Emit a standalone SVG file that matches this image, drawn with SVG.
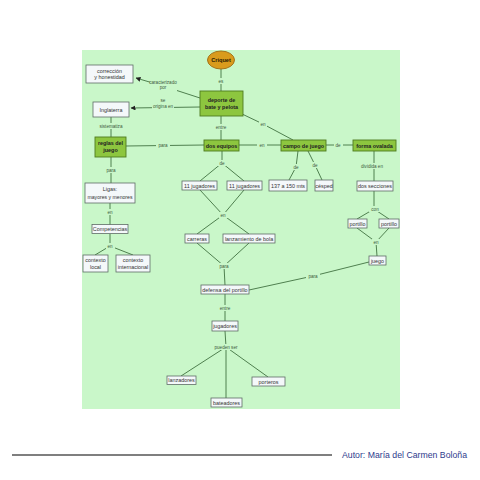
<svg xmlns="http://www.w3.org/2000/svg" width="480" height="480" viewBox="0 0 480 480">
<defs>
<style>
.bg{fill:#c9f7c9}
.n rect{fill:#f4f8fa;stroke:#5f6b66;stroke-width:0.8}
.g rect{fill:#8dc63f;stroke:#4f7a1f;stroke-width:0.9}
.n text,.g text{font-family:"Liberation Sans",Arial,sans-serif;font-size:5.4px;fill:#333;text-anchor:middle}
.g text{font-weight:bold;fill:#222}
.c path{fill:none;stroke:#4f804f;stroke-width:1}
.l rect{fill:#c9f7c9}
.l text{font-family:"Liberation Sans",Arial,sans-serif;font-size:4.6px;fill:#3d5a3d;text-anchor:middle}
</style>
<marker id="ah" viewBox="0 0 10 10" refX="9" refY="5" markerWidth="5" markerHeight="5" orient="auto">
<path d="M0,0 L10,5 L0,10 z" fill="#222"/>
</marker>
</defs>
<rect x="0" y="0" width="480" height="480" fill="#ffffff"/>
<rect class="bg" x="82" y="50" width="318" height="359"/>

<g class="c" id="connectors">
<path d="M221,69 L221,91"/>
<path d="M200,98 L163,86 L136,78" marker-end="url(#ah)"/>
<path d="M200,107 L131,108" marker-end="url(#ah)"/>
<path d="M111,117 L111,137"/>
<path d="M126,146 L204,145"/>
<path d="M221,116 L221,140"/>
<path d="M240,113 L263,124 L293,140"/>
<path d="M239,145 L281,145"/>
<path d="M326,145 L353,145"/>
<path d="M374,151 L374,181"/>
<path d="M298,151 L296,167 L289,180"/>
<path d="M308,151 L315,165 L322,180"/>
<path d="M222,151 L222,163 L200,181 M222,163 L244,181"/>
<path d="M200,190 L223,215 L244,190 M197,234 L223,215 L249,234"/>
<path d="M197,243 L224,266 L249,243 M224,266 L225,285"/>
<path d="M374,191 L374,209 L357,219 M374,209 L389,219"/>
<path d="M357,228 L376,242 L389,228 M376,242 L377,256"/>
<path d="M369,262 L313,276 L249,290"/>
<path d="M111,157 L111,183"/>
<path d="M110,203 L110,225"/>
<path d="M110,234 L110,246 L95,255 M110,246 L133,255"/>
<path d="M225,294 L225,321"/>
<path d="M225,331 L226,347 L181,376 M226,347 L268,377 M226,347 L226,398"/>
</g>

<g class="l" id="labels">
<rect x="217" y="78" width="8" height="6"/><text x="221" y="82.5">es</text>
<rect x="150" y="79" width="27" height="12"/><text x="163" y="83.5">caracterizado</text><text x="163" y="89">por</text>
<rect x="152" y="98" width="22" height="12"/><text x="163" y="102">se</text><text x="163" y="107.5">origina en</text>
<rect x="100" y="123" width="22" height="6"/><text x="111" y="127.5">sistematiza</text>
<rect x="156" y="142" width="14" height="6"/><text x="163" y="146.5">para</text>
<rect x="214" y="124" width="14" height="6"/><text x="221" y="128.5">entre</text>
<rect x="259" y="121" width="8" height="6"/><text x="263" y="125.5">en</text>
<rect x="257" y="142" width="10" height="6"/><text x="262" y="146.5">en</text>
<rect x="334" y="142" width="9" height="6"/><text x="338" y="146.5">de</text>
<rect x="361" y="163" width="23" height="6"/><text x="372" y="167.5">dividida en</text>
<rect x="292" y="164" width="9" height="6"/><text x="296" y="168.5">de</text>
<rect x="311" y="162" width="9" height="6"/><text x="315" y="166.5">de</text>
<rect x="218" y="160" width="9" height="6"/><text x="222" y="164.5">de</text>
<rect x="219" y="212" width="9" height="6"/><text x="223" y="216.5">en</text>
<rect x="217" y="263" width="14" height="6"/><text x="224" y="267.5">para</text>
<rect x="369" y="206" width="11" height="6"/><text x="375" y="210.5">con</text>
<rect x="372" y="239" width="9" height="6"/><text x="376" y="243.5">en</text>
<rect x="306" y="273" width="14" height="6"/><text x="313" y="277.5">para</text>
<rect x="104" y="167" width="14" height="6"/><text x="111" y="171.5">para</text>
<rect x="106" y="209" width="9" height="6"/><text x="110" y="213.5">en</text>
<rect x="106" y="243" width="9" height="6"/><text x="110" y="247.5">en</text>
<rect x="218" y="305" width="14" height="6"/><text x="225" y="309.5">entre</text>
<rect x="214" y="344" width="24" height="6"/><text x="226" y="348.5">pueden ser</text>
</g>

<g id="criquet">
<ellipse cx="221" cy="60" rx="13.5" ry="9" fill="#d99b1c" stroke="#9c6a12" stroke-width="0.9"/>
<text x="221" y="62" font-family="Liberation Sans,Arial,sans-serif" font-size="5.6" font-weight="bold" fill="#2a1a00" text-anchor="middle">Criquet</text>
</g>
<g class="g" id="deporte"><rect x="200" y="91" width="43" height="25"/><text x="221.5" y="102">deporte de</text><text x="221.5" y="109">bate y pelota</text></g>
<g class="n" id="correccion"><rect x="86" y="65" width="47" height="18"/><text x="109.5" y="72.5">corrección</text><text x="109.5" y="79">y honestidad</text></g>
<g class="n" id="inglaterra"><rect x="93" y="102" width="36" height="15"/><text x="111" y="111.5">Inglaterra</text></g>
<g class="g" id="reglas"><rect x="95" y="137" width="31" height="20"/><text x="110.5" y="145">reglas del</text><text x="110.5" y="152">juego</text></g>
<g class="g" id="dosequipos"><rect x="204" y="140" width="35" height="11"/><text x="221.5" y="147.5">dos equipos</text></g>
<g class="g" id="campo"><rect x="281" y="140" width="45" height="11"/><text x="303.5" y="147.5">campo de juego</text></g>
<g class="g" id="forma"><rect x="353" y="140" width="43" height="11"/><text x="374.5" y="147.5">forma ovalada</text></g>
<g class="n" id="jug1"><rect x="182" y="181" width="35" height="9"/><text x="199.5" y="187.5">11 jugadores</text></g>
<g class="n" id="jug2"><rect x="227" y="181" width="35" height="9"/><text x="244.5" y="187.5">11 jugadores</text></g>
<g class="n" id="mts"><rect x="269" y="180" width="38" height="11"/><text x="288" y="187.5">137 a 150 mts</text></g>
<g class="n" id="cesped"><rect x="315" y="180" width="18" height="11"/><text x="324" y="187.5">césped</text></g>
<g class="n" id="secciones"><rect x="357" y="181" width="36" height="10"/><text x="375" y="188">dos secciones</text></g>
<g class="n" id="ligas"><rect x="85" y="183" width="50" height="20"/><text x="110" y="191">Ligas:</text><text x="110" y="198.5" textLength="45" lengthAdjust="spacingAndGlyphs">mayores y menores</text></g>
<g class="n" id="competencias"><rect x="92" y="224.5" width="36" height="9"/><text x="110" y="231">Competencias</text></g>
<g class="n" id="local"><rect x="83" y="255" width="25" height="17"/><text x="95.5" y="262">contexto</text><text x="95.5" y="269">local</text></g>
<g class="n" id="internacional"><rect x="116" y="255" width="34" height="17"/><text x="133" y="262">contexto</text><text x="133" y="269">internacional</text></g>
<g class="n" id="carreras"><rect x="185" y="234" width="24" height="9"/><text x="197" y="240.5">carreras</text></g>
<g class="n" id="lanzamiento"><rect x="223" y="234" width="52" height="9"/><text x="249" y="240.5">lanzamiento de bola</text></g>
<g class="n" id="portillo1"><rect x="348" y="219" width="19" height="9"/><text x="357.5" y="225.5">portillo</text></g>
<g class="n" id="portillo2"><rect x="379" y="219" width="20" height="9"/><text x="389" y="225.5">portillo</text></g>
<g class="n" id="juego"><rect x="369" y="256" width="17" height="9"/><text x="377.5" y="262.5">juego</text></g>
<g class="n" id="defensa"><rect x="201" y="285" width="48" height="9"/><text x="225" y="291.5">defensa del portillo</text></g>
<g class="n" id="jugadores"><rect x="212" y="321" width="26" height="10"/><text x="225" y="328">jugadores</text></g>
<g class="n" id="lanzadores"><rect x="167" y="376" width="29" height="8.5"/><text x="181.5" y="382.2">lanzadores</text></g>
<g class="n" id="porteros"><rect x="252" y="377" width="33" height="9"/><text x="268.5" y="383.5">porteros</text></g>
<g class="n" id="bateadores"><rect x="211" y="398" width="31" height="9"/><text x="226.5" y="404.5">bateadores</text></g>

<line x1="12" y1="455" x2="332" y2="455" stroke="#555" stroke-width="1.4"/>
<text x="342" y="458" font-family="Liberation Sans,Arial,sans-serif" font-size="8.5" fill="#2e3a8c" textLength="125" lengthAdjust="spacingAndGlyphs">Autor:  María del Carmen Boloña</text>
</svg>
